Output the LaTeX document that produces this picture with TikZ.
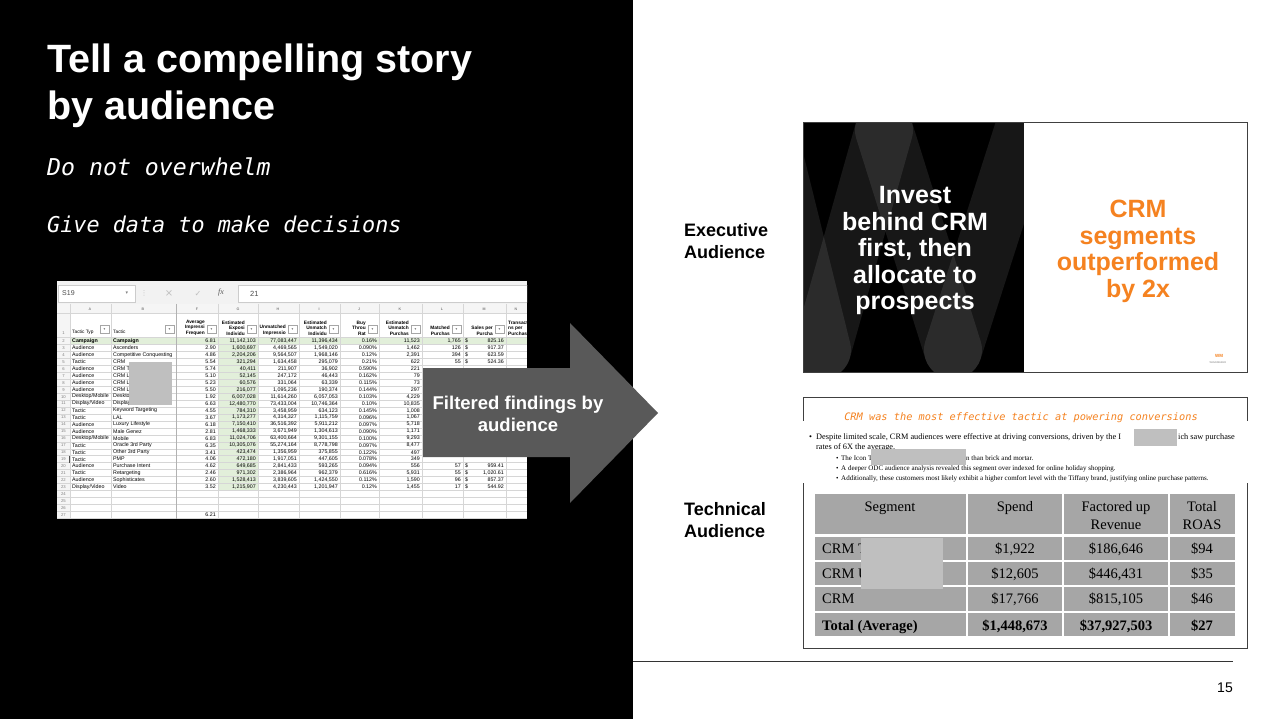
\documentclass[tikz,border=0pt]{standalone}
\usepackage{fontspec}
\setmainfont{Liberation Sans}
\newfontfamily\docfont{Liberation Serif}
\newfontfamily\techfont{DejaVu Sans Mono}[ItalicFont={DejaVu Sans Mono Oblique}]
\newfontfamily\symfont{DejaVu Sans}
\definecolor{arrowgray}{RGB}{89,89,89}
\definecolor{wmorange}{RGB}{245,130,32}
\definecolor{cellgreen}{RGB}{226,239,218}
\definecolor{gridgray}{RGB}{214,214,214}
\definecolor{hidegray}{RGB}{191,191,191}
\definecolor{tablegray}{RGB}{166,166,166}
\tikzset{
  gridline/.style={draw=gridgray, line width=0.4pt},
  sheettxt/.style={inner sep=0pt, font=\fontsize{5.3}{6}\selectfont},
  sheethdr/.style={inner sep=0pt, align=right, font=\bfseries\fontsize{4.8}{5.4}\selectfont},
  sheetnum/.style={inner sep=0pt, text=gray, font=\fontsize{4.2}{5}\selectfont},
  filterbtn/.style={draw=gray!70, fill=white, line width=0.3pt},
  titletxt/.style={inner sep=0pt, text=white, align=left, font=\bfseries\fontsize{39.5}{47}\selectfont},
  techtxt/.style={inner sep=0pt, text=white, font=\techfont\itshape\fontsize{22.5}{27}\selectfont},
  audtxt/.style={inner sep=0pt, align=left, font=\bfseries\fontsize{18}{22}\selectfont},
  arrowtxt/.style={inner sep=0pt, text=white, align=center, font=\bfseries\fontsize{18.5}{22}\selectfont},
  slidetxt/.style={inner sep=0pt, align=center, font=\bfseries\fontsize{25}{26.5}\selectfont},
  slideframe/.style={draw=black!75, line width=0.8pt},
  doctxt/.style={inner sep=0pt, anchor=base west, font=\docfont\fontsize{8.3}{10}\selectfont},
  docsub/.style={inner sep=0pt, anchor=base west, font=\docfont\fontsize{7}{10}\selectfont},
  tabletxt/.style={inner sep=0pt, anchor=base, align=center, font=\docfont\fontsize{14.5}{18}\selectfont},
  redact/.style={fill=hidegray},
  wstroke/.style={draw=white, draw opacity=0.09, line width=58pt, line cap=round},
}
\begin{document}
\begin{tikzpicture}[x=1pt,y=-1pt]
\useasboundingbox (0,0) rectangle (1280,719);
\fill[white] (0,0) rectangle (1280,719);
\fill[black] (0,0) rectangle (633,719);

\node[titletxt, anchor=base west] (title) at (47,120) {Tell a compelling story\\by audience};
\node[techtxt, font=\techfont\itshape\fontsize{23.2}{27}\selectfont, anchor=base west] (tip1) at (47,176) {Do not overwhelm};
\node[techtxt, font=\techfont\itshape\fontsize{21.8}{27}\selectfont, anchor=base west] (tip2) at (47,233) {Give data to make decisions};

% spreadsheet
\begin{scope}
\clip (57,281) rectangle (527,519);
\fill[white] (57,281) rectangle (527,519);
\fill[gray!10] (57,281) rectangle (527,304);
\filldraw[fill=white, draw=gray!40, line width=0.4pt] (58,285) rectangle (135,302);
\node[inner sep=0pt, anchor=west, text=gray!60!black, font=\fontsize{7}{8}\selectfont] (cellref) at (62,293.5) {S19};
\node[inner sep=0pt, text=gray, font=\symfont\fontsize{5}{6}\selectfont] (namedrop) at (127,293.5) {▾};
\node[inner sep=0pt, text=gray!50, font=\symfont\fontsize{7}{8}\selectfont] (dots) at (144,293.5) {⋮};
\node[inner sep=0pt, text=gray!50, font=\symfont\fontsize{10}{10}\selectfont] (cancelx) at (169,293.5) {×};
\node[inner sep=0pt, text=gray!50, font=\symfont\fontsize{8}{8}\selectfont] (enterok) at (198,293.5) {✓};
\node[inner sep=0pt, text=gray!70!black, font=\docfont\itshape\fontsize{8}{8}\selectfont] (fxlbl) at (221,293) {fx};
\filldraw[fill=white, draw=gray!40, line width=0.4pt] (238,285) rectangle (528,302);
\node[inner sep=0pt, anchor=west, text=gray!60!black, font=\fontsize{7.5}{8}\selectfont] (formula) at (250,293.5) {21};
\fill[gray!8] (57,304) rectangle (527,313);
\fill[gray!8] (57,313) rectangle (70,519);
\fill[cellgreen] (70,337.5) rectangle (527,344.45);
\fill[cellgreen] (218,337.5) rectangle (258,490.4);
\draw[gridline] (57,313) -- (527,313);
\foreach \k in {0,...,26} \draw[gridline] (57,{337.5+\k*6.95}) -- (527,{337.5+\k*6.95});
\foreach \x in {70,111,218,258,299,340,379,422,463,506} \draw[gridline] (\x,304) -- (\x,519);
\draw[gray!60, line width=1pt] (176,304) -- (176,519);
\foreach \col/\cx in {A/90,B/143,F/197,G/238,H/278,I/319,J/359,K/400,L/442,M/484,N/516}
  \node[sheetnum, font=\bfseries\fontsize{3.6}{4}\selectfont] (col-\col) at (\cx,309) {\col};
\node[sheetnum] (row-1) at (63.5,333) {1};
\foreach \r in {2,...,27} \node[sheetnum] (row-\r) at (63.5,{341+(\r-2)*6.95}) {\r};
\foreach \xr in {111,176,218,258,299,340,379,422,463,506}
  \filldraw[filterbtn] (\xr-11,325.5) rectangle (\xr-2,333.5);
\foreach \xr in {111,176,218,258,299,340,379,422,463,506}
  \node[inner sep=0pt, text=gray!80!black, font=\symfont\fontsize{3.5}{4}\selectfont] at (\xr-6.5,329.5) {▾};
\node[sheethdr, font=\fontsize{4.8}{5.4}\selectfont, anchor=base west] (hdr-A) at (72,334) {Tactic Typ};
\node[sheethdr, font=\fontsize{4.8}{5.4}\selectfont, anchor=base west] (hdr-B) at (113,334) {Tactic};
\node[sheethdr, anchor=south east] (hdr-F) at (205,335.5) {Average\\Impressi\\Frequen};
\node[sheethdr, anchor=south east] (hdr-G) at (245,335.5) {Estimated\\Exposi\\Individu};
\node[sheethdr, anchor=south east] (hdr-H) at (286,335.5) {Unmatched\\Impressio};
\node[sheethdr, anchor=south east] (hdr-I) at (327,335.5) {Estimated\\Unmatch\\Individu};
\node[sheethdr, anchor=south east] (hdr-J) at (366,335.5) {Buy\\Throu\\Rat};
\node[sheethdr, anchor=south east] (hdr-K) at (409,335.5) {Estimated\\Unmatch\\Purchas};
\node[sheethdr, anchor=south east] (hdr-L) at (450,335.5) {Matched\\Purchas};
\node[sheethdr, anchor=south east] (hdr-M) at (493,335.5) {Sales per\\Purcha};
\node[sheethdr, align=left, anchor=south west] (hdr-N) at (508,335.5) {Transactio\\ns per\\Purchase};
\foreach \r/\ta/\tb/\f/\g/\h/\i/\j/\k/\l/\u/\m in {
  2/\textbf{Campaign}/\textbf{Campaign}/6.81/{11,142,103}/{77,083,447}/{11,396,434}/0.16\%/{11,523}/{1,765}/\$/825.16,
  3/Audience/Ascenders/2.90/{1,600,697}/{4,469,565}/{1,549,020}/0.090\%/{1,462}/126/\$/917.37,
  4/Audience/Competitive Conquesting/4.86/{2,204,206}/{9,564,507}/{1,968,146}/0.12\%/{2,391}/394/\$/623.59,
  5/Tactic/CRM/5.54/{321,294}/{1,634,458}/{295,079}/0.21\%/622/55/\$/524.36,
  6/Audience/CRM T/5.74/{40,411}/{211,907}/{36,902}/0.590\%/221///,
  7/Audience/CRM L/5.10/{52,145}/{247,172}/{46,443}/0.162\%/79///,
  8/Audience/CRM L/5.23/{60,576}/{331,064}/{63,339}/0.115\%/73///,
  9/Audience/CRM L/5.50/{216,077}/{1,095,236}/{190,374}/0.144\%/297///,
  10/{Desktop/Mobile}/Desktop/1.92/{6,007,028}/{11,614,260}/{6,057,053}/0.103\%/{4,229}///,
  11/{Display/Video}/Display/6.63/{12,480,770}/{73,433,004}/{10,746,364}/0.10\%/{10,835}///,
  12/Tactic/Keyword Targeting/4.55/{784,310}/{3,458,959}/{634,123}/0.145\%/{1,008}///,
  13/Tactic/LAL/3.67/{1,173,277}/{4,314,327}/{1,115,759}/0.096\%/{1,067}///,
  14/Audience/Luxury Lifestyle/6.18/{7,150,410}/{36,516,392}/{5,911,212}/0.097\%/{5,718}///,
  15/Audience/Male Genez/2.81/{1,468,333}/{3,671,949}/{1,304,613}/0.090\%/{1,171}///,
  16/{Desktop/Mobile}/Mobile/6.83/{11,024,706}/{63,400,664}/{9,301,155}/0.100\%/{9,293}///,
  17/Tactic/Oracle 3rd Party/6.35/{10,305,076}/{55,274,164}/{8,778,798}/0.097\%/{8,477}///,
  18/Tactic/Other 3rd Party/3.41/{423,474}/{1,356,959}/{375,855}/0.122\%/497///,
  19/Tactic/PMP/4.06/{472,180}/{1,917,051}/{447,605}/0.078\%/349///,
  20/Audience/Purchase Intent/4.62/{649,685}/{2,841,433}/{593,265}/0.094\%/556/57/\$/959.41,
  21/Tactic/Retargeting/2.46/{971,302}/{2,386,964}/{962,379}/0.616\%/{5,931}/55/\$/{1,020.61},
  22/Audience/Sophisticates/2.60/{1,528,413}/{3,839,605}/{1,424,550}/0.112\%/{1,590}/96/\$/857.37,
  23/{Display/Video}/Video/3.52/{1,215,907}/{4,230,443}/{1,201,947}/0.12\%/{1,455}/17/\$/544.92}
{
  \node[sheettxt, anchor=west] (a-\r) at (72,{341+(\r-2)*6.95}) {\ta};
  \node[sheettxt, anchor=west] (b-\r) at (113,{341+(\r-2)*6.95}) {\tb};
  \node[sheettxt, anchor=east] (f-\r) at (216,{341+(\r-2)*6.95}) {\f};
  \node[sheettxt, anchor=east] (g-\r) at (256,{341+(\r-2)*6.95}) {\g};
  \node[sheettxt, anchor=east] (h-\r) at (297,{341+(\r-2)*6.95}) {\h};
  \node[sheettxt, anchor=east] (i-\r) at (338,{341+(\r-2)*6.95}) {\i};
  \node[sheettxt, anchor=east] (j-\r) at (377,{341+(\r-2)*6.95}) {\j};
  \node[sheettxt, anchor=east] (k-\r) at (420,{341+(\r-2)*6.95}) {\k};
  \node[sheettxt, anchor=east] (l-\r) at (461,{341+(\r-2)*6.95}) {\l};
  \node[sheettxt, anchor=west] (usd-\r) at (465,{341+(\r-2)*6.95}) {\u};
  \node[sheettxt, anchor=east] (m-\r) at (504,{341+(\r-2)*6.95}) {\m};
}
\node[sheettxt, anchor=east] (f-27) at (216,514.75) {6.21};
\draw[black!70, line width=0.8pt] (69.6,455.7) -- (69.6,462.6);
\fill[redact] (129,362) rectangle (172,405);
\end{scope}

% arrow
\fill[arrowgray] (423,368) -- (570,368) -- (570,323) -- (658,413) -- (570,503) -- (570,457) -- (423,457) -- cycle;
\node[arrowtxt] (filtered) at (518,414) {Filtered findings by\\audience};

\node[audtxt, anchor=base west] (exec) at (684,259) {Executive\\Audience};
\node[audtxt, anchor=base west] (tech) at (684,537) {Technical\\Audience};

% executive slide
\fill[black] (803,122) rectangle (1024,372);
\begin{scope}
\clip (803,122) rectangle (1024,372);
\draw[wstroke] (884,130) -- (822,350);
\draw[wstroke] (884,130) -- (953,350);
\draw[wstroke] (953,350) -- (1030,110);
\draw[wstroke] (822,350) -- (770,140);
\end{scope}
\fill[white] (1024,122) rectangle (1247,372);
\draw[slideframe] (803,122) rectangle (1247,372);
\node[slidetxt, text=white, anchor=base] (invest) at (915,310) {Invest\\behind CRM\\first, then\\allocate to\\prospects};
\node[slidetxt, text=wmorange, anchor=base] (crmwin) at (1138,297.5) {CRM\\segments\\outperformed\\by 2x};
\node[inner sep=0pt, text=wmorange, font=\bfseries\fontsize{4.5}{5}\selectfont] (wmmark) at (1219,356) {WM};
\node[inner sep=0pt, text=gray, font=\fontsize{2.6}{3}\selectfont] (wmname) at (1218,362.5) {WAVEMAKER};

% technical slide
\draw[slideframe] (803,397) rectangle (1247,648);
\fill[white] (801,421) rectangle (1249,483);
\node[inner sep=0pt, anchor=base, text=wmorange, font=\techfont\itshape\fontsize{10.3}{12}\selectfont] (crmhead) at (1021,420) {CRM was the most effective tactic at powering conversions};
\node[doctxt] (dot1) at (809,439) {•};
\node[doctxt] (line1a) at (816,439) {Despite limited scale, CRM audiences were effective at driving conversions, driven by the I};
\node[doctxt] (line1b) at (1178,439) {ich saw purchase};
\node[doctxt] (line2) at (816,449) {rates of 6X the average.};
\node[docsub] (dot2) at (836,460) {•};
\node[docsub] (sub1a) at (841,460) {The Icon T};
\node[docsub] (sub1b) at (966,460) {n than brick and mortar.};
\node[docsub] (dot3) at (836,470) {•};
\node[docsub] (sub2) at (841,470) {A deeper ODC audience analysis revealed this segment over indexed for online holiday shopping.};
\node[docsub] (dot4) at (836,480) {•};
\node[docsub] (sub3) at (841,480) {Additionally, these customers most likely exhibit a higher comfort level with the Tiffany brand, justifying online purchase patterns.};
\fill[redact] (1134,429) rectangle (1177,446);
\fill[redact] (871,449) rectangle (966,465);
\foreach \ya/\yb in {494/534, 537/560, 562/585, 587/611, 613/636}
  \foreach \xa/\xb in {815/966, 968/1062, 1064/1168, 1170/1235}
    \fill[tablegray] (\xa,\ya) rectangle (\xb,\yb);
\node[tabletxt] (h-seg) at (890,511) {Segment};
\node[tabletxt] (h-spend) at (1015,511) {Spend};
\node[tabletxt] (h-rev) at (1116,529) {Factored up\\Revenue};
\node[tabletxt] (h-roas) at (1202,529) {Total\\ROAS};
\foreach \rw/\yb/\seg/\sp/\rv/\ro in {1/553/CRM T/{\$1,922}/{\$186,646}/\$94, 2/578/CRM U/{\$12,605}/{\$446,431}/\$35, 3/603/CRM/{\$17,766}/{\$815,105}/\$46}
{
  \node[tabletxt, anchor=base west] (seg-\rw) at (822,\yb) {\seg};
  \node[tabletxt] (sp-\rw) at (1015,\yb) {\sp};
  \node[tabletxt] (rv-\rw) at (1116,\yb) {\rv};
  \node[tabletxt] (ro-\rw) at (1202,\yb) {\ro};
}
\node[tabletxt, anchor=base west, font=\docfont\bfseries\fontsize{14.5}{18}\selectfont] (seg-tot) at (822,630) {Total (Average)};
\node[tabletxt, font=\docfont\bfseries\fontsize{14.5}{18}\selectfont] (sp-tot) at (1015,630) {\$1,448,673};
\node[tabletxt, font=\docfont\bfseries\fontsize{14.5}{18}\selectfont] (rv-tot) at (1116,630) {\$37,927,503};
\node[tabletxt, font=\docfont\bfseries\fontsize{14.5}{18}\selectfont] (ro-tot) at (1202,630) {\$27};
\fill[redact] (861,538) rectangle (943,589);

\draw[black!80, line width=0.8pt] (633,661) -- (1233,661);
\node[inner sep=0pt, anchor=base east, font=\fontsize{14}{16}\selectfont] (pagenum) at (1233,692) {15};
\end{tikzpicture}
\end{document}
